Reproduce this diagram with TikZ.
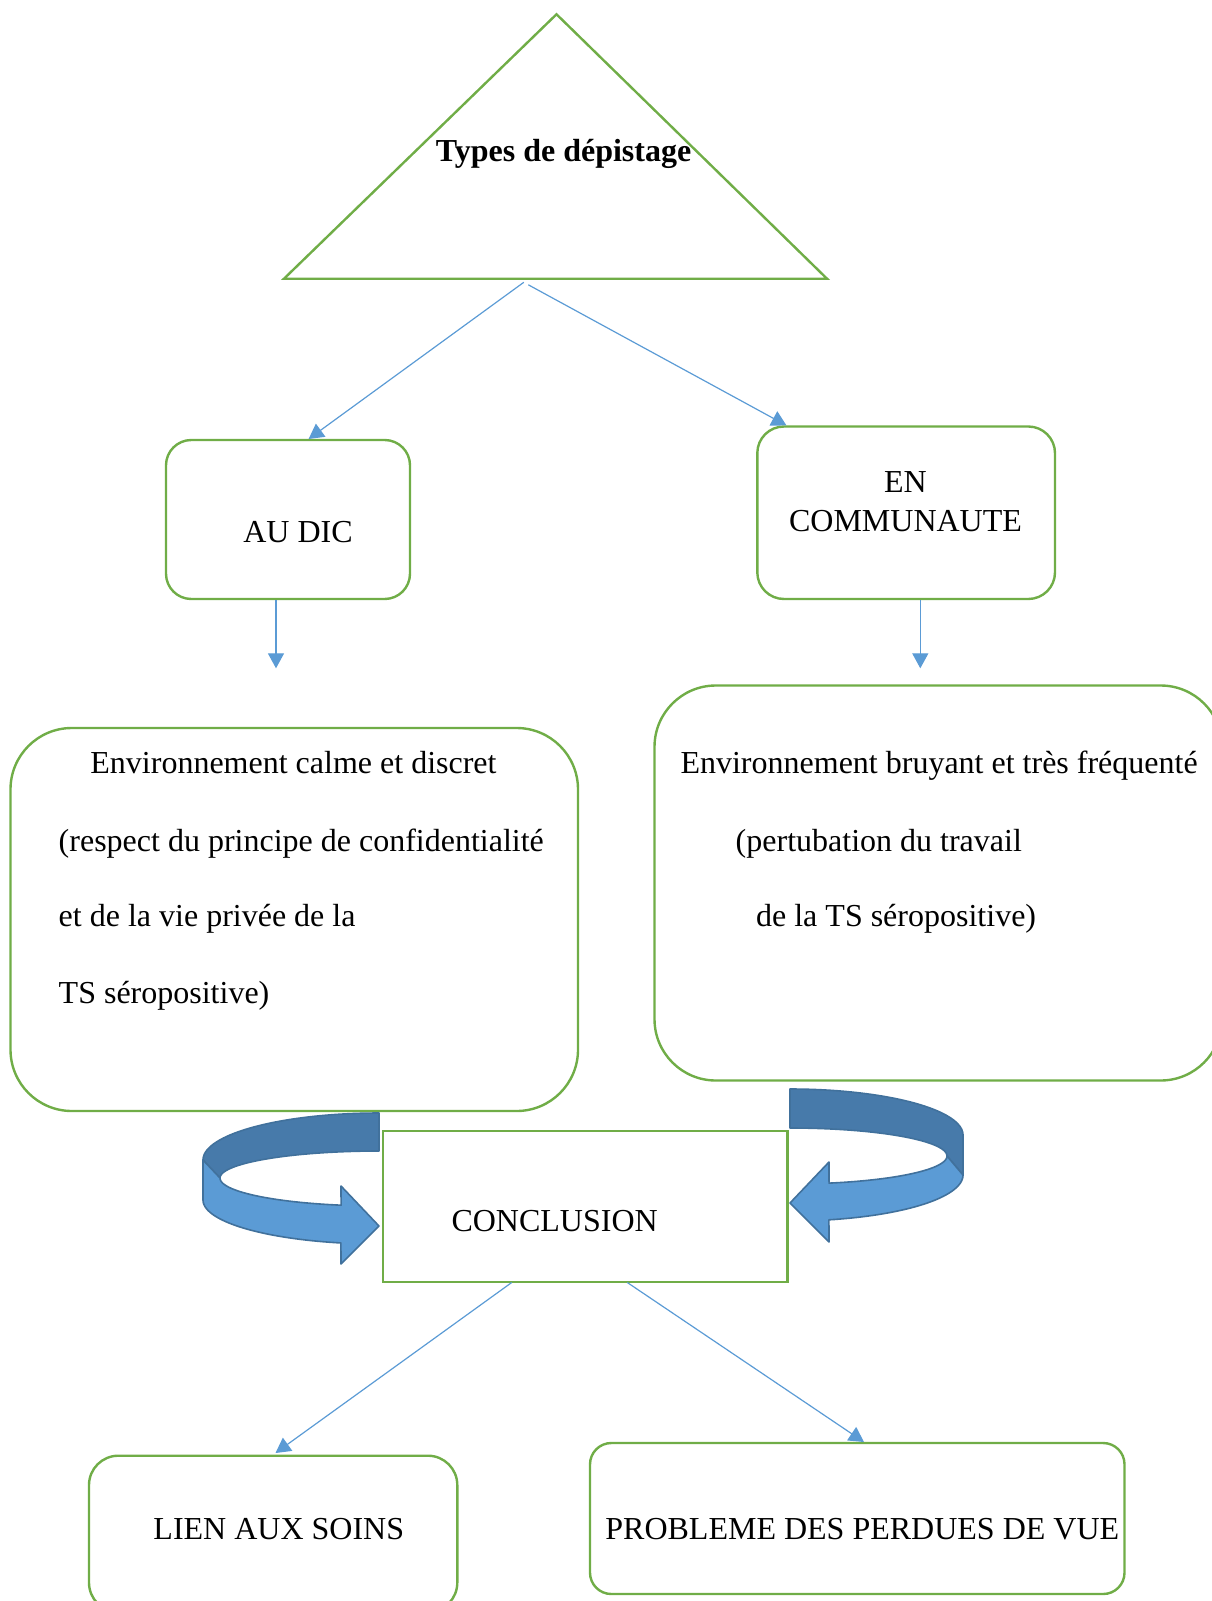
\documentclass[tikz,border=0pt]{standalone}
\usepackage{fontspec}
\setmainfont{Liberation Serif}
\usetikzlibrary{arrows.meta,fit}
\definecolor{boxgreen}{HTML}{70AD47}
\definecolor{linkblue}{HTML}{5B9BD5}
\definecolor{arrdark}{HTML}{477AAA}
\definecolor{arrlight}{HTML}{5B9BD5}
\definecolor{arredge}{HTML}{41719C}
\begin{document}
\begin{tikzpicture}[x=0.375pt,y=-0.375pt,
  font=\fontsize{12}{14}\selectfont,
  gbox/.style={draw=boxgreen, line width=0.9pt, inner sep=0pt, fill=white},
  conn/.style={draw=linkblue, line width=0.45pt, -{Triangle[length=5.6pt,width=6pt]}, linkblue},
  ctxt/.style={inner sep=0pt, anchor=base},
  ltxt/.style={inner sep=0pt, anchor=base west},
  darkband/.style={fill=arrdark, draw=arredge, line width=0.6pt, line join=round},
  lightband/.style={fill=arrlight, draw=arredge, line width=0.6pt, line join=round}]
\useasboundingbox (0,0) rectangle (1211,1601);

% triangle
\coordinate (apex) at (556.5,14.3);
\coordinate (bl) at (283.9,278.8);
\coordinate (br) at (827.1,278.8);
\draw[boxgreen, line width=0.9pt] (apex) -- (br) -- (bl) -- cycle;
\node[ctxt, font=\fontsize{12}{14}\selectfont\bfseries] (types) at (563.6,161.5) {Types de dépistage};

% boxes
\node[gbox, rounded corners=9.5pt, fit={(166,440) (410,599)}] (audic) {};
\node[gbox, rounded corners=10pt, fit={(757.3,426.5) (1055,599)}] (encom) {};
\node[gbox, rounded corners=23pt, fit={(10.5,728) (578,1111)}] (envl) {};
\node[gbox, rounded corners=23pt, fit={(654.5,685.5) (1222,1080.5)}] (envr) {};
\node[gbox, fit={(382.7,1130.7) (787.3,1281.7)}] (concl) {};
\node[gbox, rounded corners=11pt, fit={(89,1455.7) (457.3,1612)}] (lien) {};
\node[gbox, rounded corners=8pt, fit={(590,1443) (1124.5,1594)}] (prob) {};

% texts
\node[ctxt] (taudic) at (298,542.7) {AU DIC};
\node[ctxt] (ten) at (905.5,492.7) {EN};
\node[ctxt] (tcom) at (905.5,531.7) {COMMUNAUTE};
\node[ltxt] (l1) at (89.9,773.3) {Environnement calme et discret};
\node[ltxt] (l2) at (58.2,851) {(respect du principe de confidentialité};
\node[ltxt] (l3) at (58.2,926.5) {et de la vie privée de la};
\node[ltxt] (l4) at (58.2,1003) {TS séropositive)};
\node[ltxt] (r1) at (680,773.3) {Environnement bruyant et très fréquenté};
\node[ltxt] (r2) at (735.2,851) {(pertubation du travail};
\node[ltxt] (r3) at (755.6,926.5) {de la TS séropositive)};
\node[ltxt] (tconcl) at (451,1231.7) {CONCLUSION};
\node[ctxt] (tlien) at (278.8,1539) {LIEN AUX SOINS};
\node[ctxt] (tprob) at (862.3,1539) {PROBLEME DES PERDUES DE VUE};

% connectors
\coordinate (s1) at (523.8,282.3);
\coordinate (s2) at (528.3,284.8);
\coordinate (e1) at (308.6,439);
\coordinate (e2) at (786.5,425.5);
\draw[conn] (s1) -- (e1);
\draw[conn] (s2) -- (e2);
\coordinate (d1) at (276,668.3);
\coordinate (d2) at (920.3,668.3);
\draw[conn] (audic.south -| d1) -- (d1);
\draw[conn] (encom.south -| d2) -- (d2);
\coordinate (c1) at (511.7,1282.5);
\coordinate (c2) at (627.3,1282.5);
\coordinate (f1) at (275.5,1453);
\coordinate (f2) at (864,1442);
\draw[conn] (c1) -- (f1);
\draw[conn] (c2) -- (f2);

% left curved arrow
\filldraw[darkband] plot[domain=270:180,samples=40] ({379+176*cos(\x)},{1160+47*sin(\x)})
  -- plot[domain=180:270,samples=40] ({379+159*cos(\x)},{1178+27*sin(\x)}) -- cycle;
\filldraw[lightband] (203,1160)
  -- plot[domain=180:102.5,samples=40] ({379+176*cos(\x)},{1200+44*sin(\x)})
  -- (341,1264) -- (379,1226) -- (341,1186)
  -- plot[domain=103.8:180,samples=40] ({379+159*cos(\x)},{1178+28*sin(\x)}) -- cycle;

% right curved arrow
\filldraw[darkband] plot[domain=270:360,samples=40] ({790+173*cos(\x)},{1135+46*sin(\x)})
  -- (963,1175) -- (947,1156)
  -- plot[domain=360:270,samples=40] ({790+157*cos(\x)},{1156+28*sin(\x)}) -- cycle;
\filldraw[lightband] (947,1156)
  -- plot[domain=0:75.6,samples=40] ({790+157*cos(\x)},{1156+28*sin(\x)})
  -- (829,1162) -- (790,1203) -- (829,1242)
  -- plot[domain=77:0,samples=40] ({790+173*cos(\x)},{1175+46*sin(\x)}) -- cycle;
\end{tikzpicture}
\end{document}
